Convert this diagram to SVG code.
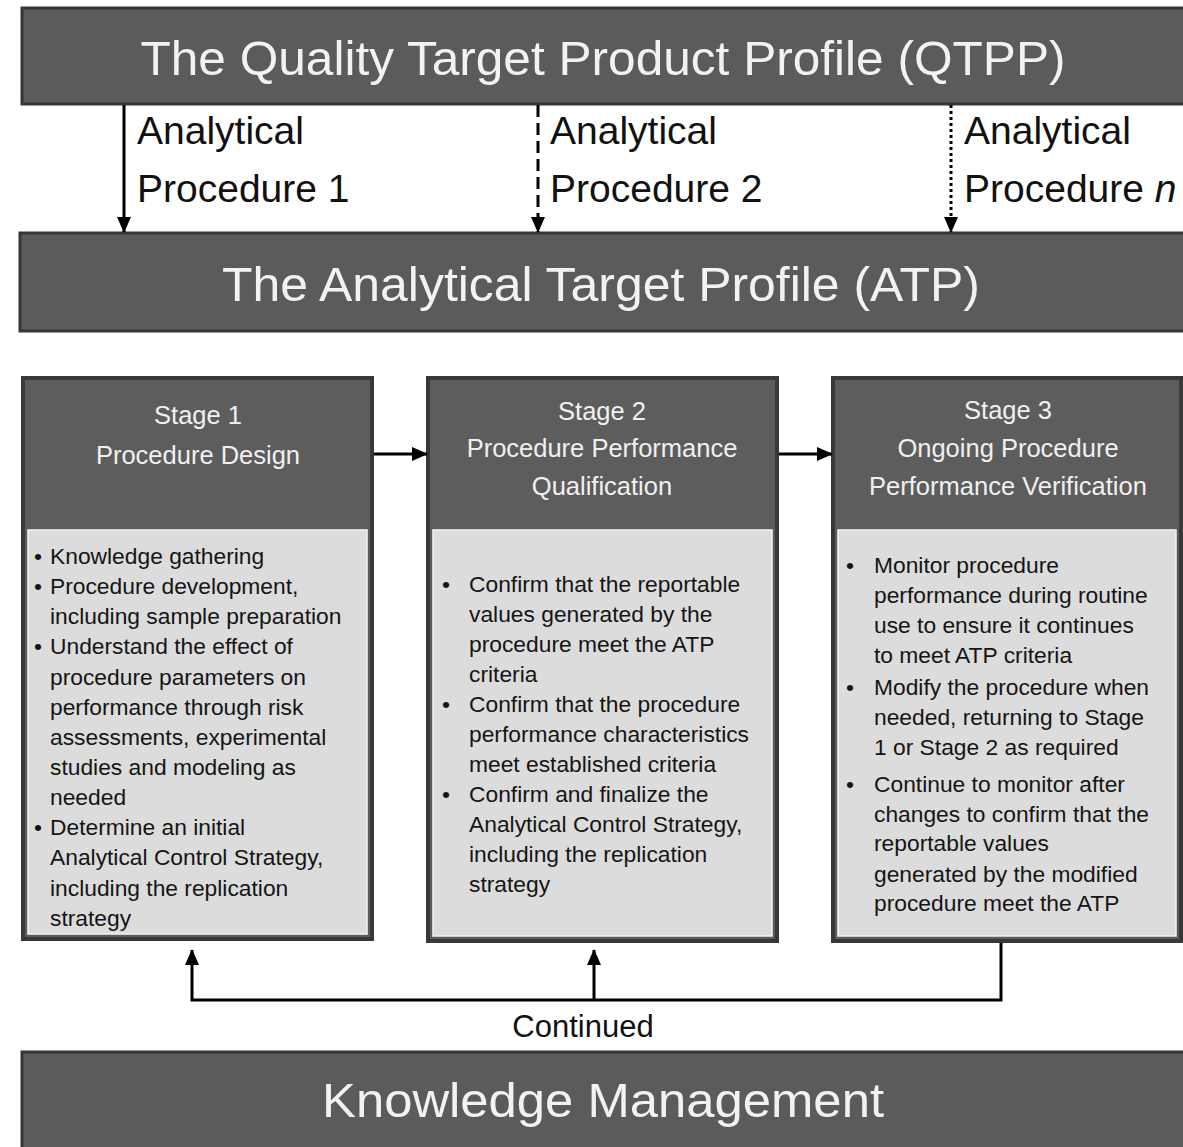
<svg xmlns="http://www.w3.org/2000/svg" width="1183" height="1147" viewBox="0 0 1183 1147">
<style>
  .banner { fill: #5b5b5b; stroke: #363636; stroke-width: 3; }
  .btitle { font-family: "Liberation Sans", Arial, sans-serif; font-size: 49px; fill: #f2f2f2; text-anchor: middle; }
  .lbl { font-family: "Liberation Sans", Arial, sans-serif; font-size: 39px; fill: #111; }
  .hdr { fill: #5d5d5d; stroke: #383838; stroke-width: 4; }
  .body { fill: #dcdcdc; stroke: #f4f4f4; stroke-width: 1.5; }
  .htxt { font-family: "Liberation Sans", Arial, sans-serif; font-size: 25.5px; fill: #f0f0f0; text-anchor: middle; }
  .btxt { font-family: "Liberation Sans", Arial, sans-serif; font-size: 22.8px; fill: #151515; }
  .cont { font-family: "Liberation Sans", Arial, sans-serif; font-size: 31px; fill: #111; text-anchor: middle; }
  .ln { stroke: #000; stroke-width: 3; fill: none; }
</style>
<defs>
  <marker id="ah" markerUnits="userSpaceOnUse" markerWidth="16" markerHeight="16" refX="15" refY="8" orient="auto">
    <path d="M0,1 L16,8 L0,15 Z" fill="#000"/>
  </marker>
</defs>
<rect width="1183" height="1147" fill="#ffffff"/>

<g id="qtpp">
  <rect class="banner" x="22" y="8" width="1170" height="96"/>
  <text class="btitle" x="603" y="75" textLength="925" lengthAdjust="spacingAndGlyphs">The Quality Target Product Profile (QTPP)</text>
</g>

<g id="atp">
  <rect class="banner" x="20" y="233" width="1172" height="98"/>
  <text class="btitle" x="601" y="301" textLength="758" lengthAdjust="spacingAndGlyphs">The Analytical Target Profile (ATP)</text>
</g>

<g id="labels">
  <text class="lbl" x="137" y="144">Analytical</text>
  <text class="lbl" x="137" y="202">Procedure 1</text>
  <text class="lbl" x="550" y="144">Analytical</text>
  <text class="lbl" x="550" y="202">Procedure 2</text>
  <text class="lbl" x="964" y="144">Analytical</text>
  <text class="lbl" x="964" y="202">Procedure <tspan font-style="italic">n</tspan></text>
</g>

<g id="stage1">
  <rect class="hdr" x="23" y="378" width="349" height="561"/>
  <rect class="body" x="28" y="530" width="339" height="404"/>
  <text class="htxt" x="198" y="424">Stage 1</text>
  <text class="htxt" x="198" y="464">Procedure Design</text>
  <text class="btxt">
    <tspan x="34" y="564">•</tspan><tspan x="34" y="594">•</tspan><tspan x="34" y="654">•</tspan><tspan x="34" y="835">•</tspan>
  </text>
  <text class="btxt">
    <tspan x="50" y="564">Knowledge gathering</tspan>
    <tspan x="50" y="594">Procedure development,</tspan>
    <tspan x="50" y="624">including sample preparation</tspan>
    <tspan x="50" y="654">Understand the effect of</tspan>
    <tspan x="50" y="685">procedure parameters on</tspan>
    <tspan x="50" y="715">performance through risk</tspan>
    <tspan x="50" y="745">assessments, experimental</tspan>
    <tspan x="50" y="775">studies and modeling as</tspan>
    <tspan x="50" y="805">needed</tspan>
    <tspan x="50" y="835">Determine an initial</tspan>
    <tspan x="50" y="865">Analytical Control Strategy,</tspan>
    <tspan x="50" y="896">including the replication</tspan>
    <tspan x="50" y="926">strategy</tspan>
  </text>
</g>

<g id="stage2">
  <rect class="hdr" x="428" y="378" width="349" height="563"/>
  <rect class="body" x="433" y="530" width="339" height="406"/>
  <text class="htxt" x="602" y="420">Stage 2</text>
  <text class="htxt" x="602" y="457">Procedure Performance</text>
  <text class="htxt" x="602" y="495">Qualification</text>
  <text class="btxt">
    <tspan x="442" y="592">•</tspan><tspan x="442" y="712">•</tspan><tspan x="442" y="802">•</tspan>
  </text>
  <text class="btxt">
    <tspan x="469" y="592">Confirm that the reportable</tspan>
    <tspan x="469" y="622">values generated by the</tspan>
    <tspan x="469" y="652">procedure meet the ATP</tspan>
    <tspan x="469" y="682">criteria</tspan>
    <tspan x="469" y="712">Confirm that the procedure</tspan>
    <tspan x="469" y="742">performance characteristics</tspan>
    <tspan x="469" y="772">meet established criteria</tspan>
    <tspan x="469" y="802">Confirm and finalize the</tspan>
    <tspan x="469" y="832">Analytical Control Strategy,</tspan>
    <tspan x="469" y="862">including the replication</tspan>
    <tspan x="469" y="892">strategy</tspan>
  </text>
</g>

<g id="stage3">
  <rect class="hdr" x="833" y="378" width="348" height="563"/>
  <rect class="body" x="838" y="530" width="338" height="406"/>
  <text class="htxt" x="1008" y="419">Stage 3</text>
  <text class="htxt" x="1008" y="457">Ongoing Procedure</text>
  <text class="htxt" x="1008" y="495">Performance Verification</text>
  <text class="btxt">
    <tspan x="846" y="573">•</tspan><tspan x="846" y="695">•</tspan><tspan x="846" y="792">•</tspan>
  </text>
  <text class="btxt">
    <tspan x="874" y="573">Monitor procedure</tspan>
    <tspan x="874" y="603">performance during routine</tspan>
    <tspan x="874" y="633">use to ensure it continues</tspan>
    <tspan x="874" y="663">to meet ATP criteria</tspan>
    <tspan x="874" y="695">Modify the procedure when</tspan>
    <tspan x="874" y="725">needed, returning to Stage</tspan>
    <tspan x="874" y="755">1 or Stage 2 as required</tspan>
    <tspan x="874" y="792">Continue to monitor after</tspan>
    <tspan x="874" y="822">changes to confirm that the</tspan>
    <tspan x="874" y="851">reportable values</tspan>
    <tspan x="874" y="882">generated by the modified</tspan>
    <tspan x="874" y="911">procedure meet the ATP</tspan>
  </text>
</g>

<g id="km">
  <rect class="banner" x="22" y="1052" width="1170" height="110"/>
  <text class="btitle" x="603" y="1117" textLength="562" lengthAdjust="spacingAndGlyphs">Knowledge Management</text>
</g>

<g id="continued-label">
  <text class="cont" x="583" y="1037">Continued</text>
</g>

<g id="connectors">
  <line class="ln" x1="124" y1="105" x2="124" y2="232" marker-end="url(#ah)"/>
  <line class="ln" x1="538" y1="105" x2="538" y2="232" stroke-dasharray="12 6" marker-end="url(#ah)"/>
  <line class="ln" x1="951" y1="105" x2="951" y2="232" stroke-dasharray="3 3" marker-end="url(#ah)"/>
  <line class="ln" x1="374" y1="454" x2="427" y2="454" marker-end="url(#ah)"/>
  <line class="ln" x1="779" y1="454" x2="832" y2="454" marker-end="url(#ah)"/>
  <polyline class="ln" points="1001,943 1001,1000 192,1000 192,950" marker-end="url(#ah)"/>
  <line class="ln" x1="594" y1="1000" x2="594" y2="950" marker-end="url(#ah)"/>
</g>
</svg>
